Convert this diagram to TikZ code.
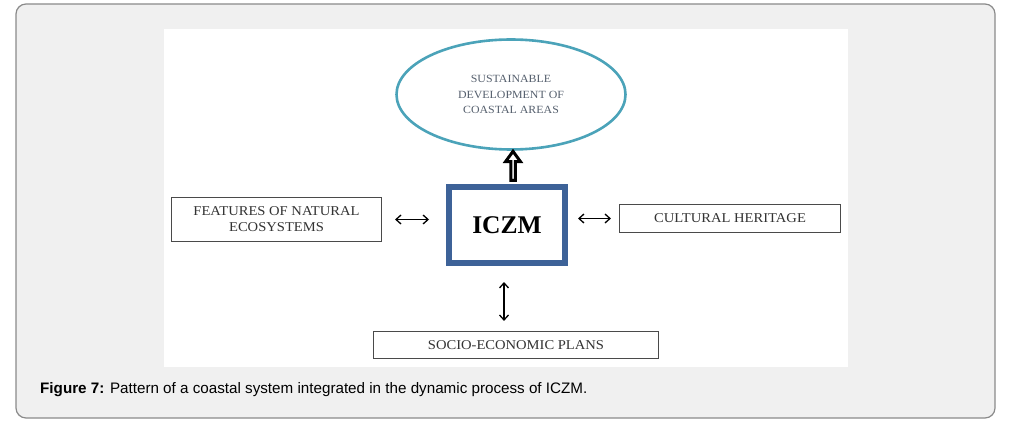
\documentclass[tikz,border=0pt]{standalone}
\usepackage{fontspec}
\setmainfont{Liberation Serif}
\newfontfamily\capfont{Liberation Sans}
\newfontfamily\boxfont[FakeStretch=1.08]{Liberation Serif}
\usetikzlibrary{positioning}
\usetikzlibrary{calc}
\usetikzlibrary{shapes.geometric, shapes.arrows, arrows.meta}

\definecolor{framegrey}{HTML}{8A8A8A}
\definecolor{pagegrey}{HTML}{F0F0F0}
\definecolor{ringteal}{HTML}{4BA3B9}
\definecolor{iczmblue}{HTML}{3D6298}
\definecolor{boxline}{HTML}{4A4A4A}
\definecolor{boxtext}{HTML}{333333}
\definecolor{ringtext}{HTML}{56606E}

\tikzset{
  plainbox/.style={draw=boxline, line width=1.1pt, fill=white, inner sep=0pt,
    align=center, text=boxtext, font=\boxfont\fontsize{13.5}{16}\selectfont},
  dblarr/.style={{Straight Barb[length=5pt,width=9pt]}-{Straight Barb[length=5pt,width=9pt]}, line width=1.3pt},
}

\begin{document}
\begin{tikzpicture}[x=1pt, y=-1pt]

      \useasboundingbox (0,0) rectangle (1017,422);

      % page frame and white panel
      \draw[framegrey, line width=1.2pt, fill=pagegrey, rounded corners=10pt] (16,4) rectangle (995,418);
      \fill[white] (164,29) rectangle (848,367);

      \node[ellipse, draw=ringteal, line width=2.6pt, minimum width=229pt, minimum height=110pt,
        inner sep=0pt, align=center, text=ringtext, font=\boxfont\fontsize{11}{15.8}\selectfont]
        (goal) at (511,94.5) {SUSTAINABLE\\DEVELOPMENT OF\\COASTAL AREAS};

      \node[draw=iczmblue, line width=6pt, minimum width=116pt, minimum height=76pt,
        font=\fontsize{25.5}{28}\selectfont\bfseries] (iczm) at (507,225) {ICZM};

      \node[plainbox, minimum width=210pt, minimum height=44pt] (features) at (276.5,219.5)
        {FEATURES OF NATURAL\\ECOSYSTEMS};
      \node[plainbox, minimum width=221pt, minimum height=28pt] (heritage) at (730,218.5)
        {CULTURAL HERITAGE};
      \node[plainbox, minimum width=285pt, minimum height=27pt] (plans) at (516,345)
        {SOCIO-ECONOMIC PLANS};

      % thick outlined arrow up to the goal
      \node[single arrow, draw=black, fill=white, line width=3pt, rotate=90, inner sep=0pt,
        minimum height=29pt, minimum width=15pt, single arrow head extend=3.5pt,
        single arrow tip angle=72] (up) at ($(goal.south)!0.5!(iczm.north) + (4,0)$) {};

      \draw[dblarr, shorten <=13pt, shorten >=17pt] (features.east) -- (features.east -| iczm.west);
      \draw[dblarr, shorten <=10pt, shorten >=8pt] (iczm.east |- heritage.west) -- (heritage.west);
      \draw[dblarr, shorten <=16pt, shorten >=10pt] ($(iczm.south)+(-3,0)$) -- ($(iczm.south |- plans.north)+(-3,0)$);

      \node[anchor=base west, inner sep=0pt, font=\capfont\fontsize{15.2}{18}\selectfont] (caption) at (40,393)
        {\textbf{Figure 7:} Pattern of a coastal system integrated in the dynamic process of ICZM.};

    \end{tikzpicture}
\end{document}
